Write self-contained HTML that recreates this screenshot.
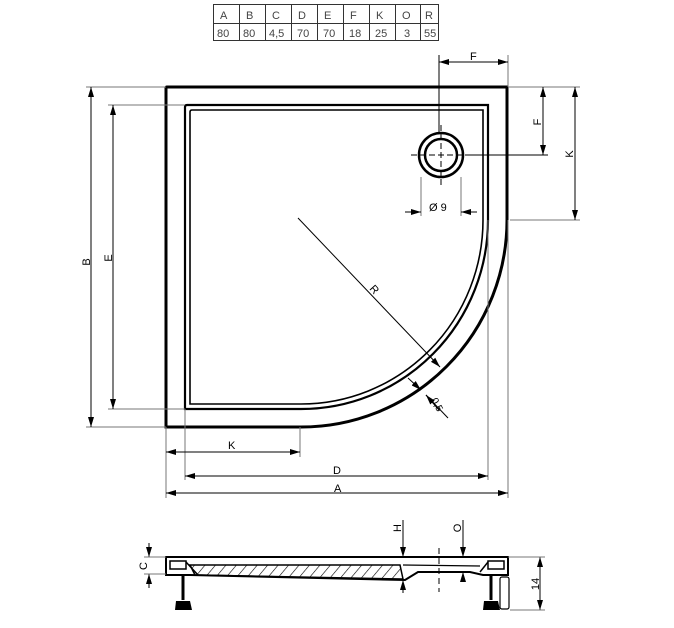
<!DOCTYPE html>
<html><head><style>
html,body{margin:0;padding:0;background:#fff;}
svg{display:block;font-family:"Liberation Sans",sans-serif;}
</style></head><body>
<svg width="674" height="628" viewBox="0 0 674 628" xmlns="http://www.w3.org/2000/svg">
<defs>
<marker id="a" viewBox="0 0 10 6" refX="10" refY="3" markerWidth="10" markerHeight="6" orient="auto-start-reverse" markerUnits="userSpaceOnUse"><path d="M0,0 L10,3 L0,6 z" fill="#000"/></marker>
<pattern id="h" width="8" height="8" patternUnits="userSpaceOnUse" patternTransform="rotate(40)"><line x1="0" y1="0" x2="0" y2="8" stroke="#000" stroke-width="1.2"/></pattern>
</defs>
<!-- table -->
<g stroke="#333" stroke-width="1" fill="none">
<rect x="213.5" y="4.5" width="225" height="36"/>
<line x1="213" y1="23.5" x2="438" y2="23.5"/>
<line x1="239.5" y1="4" x2="239.5" y2="40"/><line x1="265.5" y1="4" x2="265.5" y2="40"/>
<line x1="291.5" y1="4" x2="291.5" y2="40"/><line x1="317.5" y1="4" x2="317.5" y2="40"/>
<line x1="343.5" y1="4" x2="343.5" y2="40"/><line x1="369.5" y1="4" x2="369.5" y2="40"/>
<line x1="395.5" y1="4" x2="395.5" y2="40"/><line x1="420.5" y1="4" x2="420.5" y2="40"/>
</g>
<g font-size="11" fill="#444">
<text x="220" y="19">A</text><text x="246" y="19">B</text><text x="272" y="19">C</text><text x="298" y="19">D</text><text x="324" y="19">E</text><text x="350" y="19">F</text><text x="376" y="19">K</text><text x="402" y="19">O</text><text x="425" y="19">R</text>
<text x="217" y="37">80</text><text x="243" y="37">80</text><text x="269" y="37">4,5</text><text x="297" y="37">70</text><text x="323" y="37">70</text><text x="349" y="37">18</text><text x="375" y="37">25</text><text x="404" y="37">3</text><text x="424" y="37">55</text>
</g>
<!-- plan -->
<g fill="none" stroke="#000">
<path d="M166,427 L166,88 Q166,87 167,87 L507,87 L507,220 A206,207 0 0 1 301,427 Z" stroke-width="3"/>
<path d="M185,409 L185,107 Q185,105 187,105 L488,105 L488,220 A187,189 0 0 1 301,409 Z" stroke-width="2.2"/>
<path d="M190,404 L190,112 Q190,110 192,110 L483,110 L483,220 A182,184 0 0 1 301,404 Z" stroke-width="1.6"/>
<circle cx="441" cy="155" r="22" stroke-width="2.5"/>
<circle cx="441" cy="155" r="16" stroke-width="2.5"/>
</g>
<g stroke="#000" stroke-width="1" fill="none">
<line x1="411" y1="155" x2="471" y2="155" stroke-dasharray="6,3"/>
<line x1="441" y1="125" x2="441" y2="185" stroke-dasharray="6,3"/>
<line x1="439" y1="55" x2="439" y2="133"/>
<line x1="471" y1="155" x2="548" y2="155"/>
</g>
<g stroke="#777" stroke-width="1" fill="none">
<line x1="508" y1="55" x2="508" y2="87"/>
<line x1="86" y1="87" x2="166" y2="87"/><line x1="86" y1="427" x2="166" y2="427"/>
<line x1="108" y1="105" x2="185" y2="105"/><line x1="108" y1="409" x2="185" y2="409"/>
<line x1="508" y1="87" x2="580" y2="87"/><line x1="510" y1="220" x2="580" y2="220"/>
<line x1="166" y1="427" x2="166" y2="498"/><line x1="508" y1="220" x2="508" y2="498"/>
<line x1="185" y1="409" x2="185" y2="480"/><line x1="488" y1="220" x2="488" y2="480"/>
<line x1="300" y1="427" x2="300" y2="457"/>
<line x1="421" y1="177" x2="421" y2="216"/><line x1="461" y1="177" x2="461" y2="216"/>
</g>
<g stroke="#000" stroke-width="1" fill="none" marker-start="url(#a)" marker-end="url(#a)">
<line x1="91" y1="87" x2="91" y2="427"/>
<line x1="113" y1="105" x2="113" y2="409"/>
<line x1="166" y1="452" x2="300" y2="452"/>
<line x1="185" y1="476" x2="488" y2="476"/>
<line x1="166" y1="493" x2="508" y2="493"/>
<line x1="543" y1="87" x2="543" y2="155"/>
<line x1="575" y1="87" x2="575" y2="220"/>
</g>
<g stroke="#000" stroke-width="1" fill="none">
<line x1="439" y1="62" x2="455" y2="62" marker-start="url(#a)"/>
<line x1="492" y1="62" x2="508" y2="62" marker-end="url(#a)"/>
<line x1="455" y1="62" x2="492" y2="62"/>
<line x1="405" y1="212" x2="421" y2="212" marker-end="url(#a)"/>
<line x1="461" y1="212" x2="477" y2="212" marker-start="url(#a)"/>
<line x1="298" y1="218" x2="440" y2="367" marker-end="url(#a)"/>
<line x1="408" y1="378" x2="421" y2="390" marker-end="url(#a)"/>
<line x1="439" y1="410" x2="426" y2="395" marker-end="url(#a)"/>
<line x1="426" y1="395" x2="448" y2="418"/>
</g>
<g font-size="11" fill="#000">
<text x="470" y="60">F</text>
<text x="429" y="211">Ø 9</text>
<text x="228" y="449">K</text>
<text x="333" y="474">D</text>
<text x="334" y="492">A</text>
<text transform="translate(90,262) rotate(-90)" text-anchor="middle">B</text>
<text transform="translate(112,258) rotate(-90)" text-anchor="middle">E</text>
<text transform="translate(541,122) rotate(-90)" text-anchor="middle">F</text>
<text transform="translate(573,154) rotate(-90)" text-anchor="middle">K</text>
<text transform="translate(369,289) rotate(48)">R</text>
<text transform="translate(431,400) rotate(62)" font-size="10">0,5</text>
</g>
<!-- side view -->
<g stroke="#000" fill="none">
<path d="M166,557 L508,557 L508,575 L483,575 L470,572 L418,572 L405,580 L190,575 L166,575 Z" stroke-width="2"/>
<path d="M190,565 L400,565 L403,579 L195,575 Z" fill="url(#h)" stroke-width="1.5"/>
<line x1="403" y1="565" x2="480" y2="566" stroke-width="1.2"/>
<rect x="170" y="561" width="16" height="8" stroke-width="1.5"/>
<rect x="488" y="561" width="16" height="8" stroke-width="1.5"/>
<line x1="186" y1="562" x2="198" y2="575" stroke-width="1.5"/>
<line x1="488" y1="562" x2="480" y2="572" stroke-width="1.5"/>
<line x1="183" y1="575" x2="183" y2="600" stroke-width="3"/>
<line x1="491" y1="575" x2="491" y2="600" stroke-width="3"/>
<rect x="500" y="577" width="9" height="32" rx="2" stroke-width="1.2"/>
</g>
<path d="M176,601 L190,601 L192,610 L175,610 Z" fill="#000"/>
<path d="M484,601 L498,601 L500,610 L483,610 Z" fill="#000"/>
<g stroke="#000" stroke-width="1" fill="none">
<line x1="439" y1="548" x2="439" y2="592" stroke-dasharray="6,4"/>
<line x1="403" y1="520" x2="403" y2="557" marker-end="url(#a)"/>
<line x1="403" y1="593" x2="403" y2="580" marker-end="url(#a)"/>
<line x1="463" y1="520" x2="463" y2="557" marker-end="url(#a)"/>
<line x1="463" y1="582" x2="463" y2="572" marker-end="url(#a)"/>
<line x1="149" y1="543" x2="149" y2="557" marker-end="url(#a)"/>
<line x1="149" y1="588" x2="149" y2="574" marker-end="url(#a)"/>
<line x1="540" y1="557" x2="540" y2="610" marker-start="url(#a)" marker-end="url(#a)"/>
</g>
<g stroke="#777" stroke-width="1">
<line x1="144" y1="557" x2="166" y2="557"/><line x1="144" y1="574" x2="166" y2="574"/>
<line x1="508" y1="557" x2="545" y2="557"/><line x1="510" y1="610" x2="545" y2="610"/>
</g>
<g font-size="11" fill="#000">
<text transform="translate(401,528) rotate(-90)" text-anchor="middle">H</text>
<text transform="translate(461,528) rotate(-90)" text-anchor="middle">O</text>
<text transform="translate(147,566) rotate(-90)" text-anchor="middle">C</text>
<text transform="translate(539,584) rotate(-90)" text-anchor="middle">14</text>
</g>
</svg>
</body></html>
